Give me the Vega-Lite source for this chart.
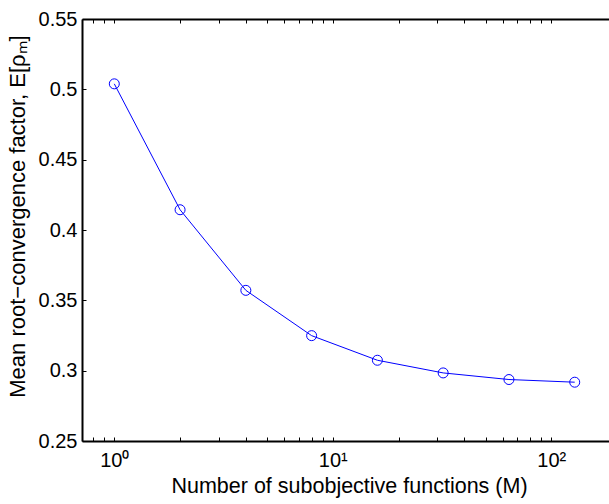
{
  "$schema": "https://vega.github.io/schema/vega-lite/v6.json",
  "width": 530,
  "height": 422,
  "autosize": "none",
  "padding": {"left": 82, "top": 19, "right": 0, "bottom": 63},
  "background": "white",
  "config": {
    "view": {"stroke": null},
    "font": "Liberation Sans",
    "axis": {"grid": false, "domainColor": "black", "tickColor": "black", "labelColor": "black", "titleColor": "black", "labelFont": "Liberation Sans", "titleFont": "Liberation Sans", "titleFontWeight": "normal"}
  },
  "data": {"values": [
    {"M": 1, "rho": 0.5039},
    {"M": 2, "rho": 0.4144},
    {"M": 4, "rho": 0.3571},
    {"M": 8, "rho": 0.3249},
    {"M": 16, "rho": 0.3074},
    {"M": 32, "rho": 0.2984},
    {"M": 64, "rho": 0.2937},
    {"M": 128, "rho": 0.2918}
  ]},
  "resolve": {"axis": {"x": "independent", "y": "independent"}},
  "layer": [
    {
      "mark": {"type": "line", "color": "#0000ff", "strokeWidth": 1},
      "encoding": {
        "x": {"field": "M", "type": "quantitative",
          "scale": {"type": "log", "domain": [0.7115, 189.6], "nice": false, "zero": false},
          "axis": {"orient": "bottom",
            "values": [0.8, 0.9, 1, 2, 3, 4, 5, 6, 7, 8, 9, 10, 20, 30, 40, 50, 60, 70, 80, 90, 100],
            "labelExpr": "datum.value == 1 ? '10⁰' : datum.value == 10 ? '10¹' : datum.value == 100 ? '10²' : ''",
            "labelFontSize": 20, "labelBaseline": "alphabetic", "labelPadding": 29, "labelFlush": false, "labelOverlap": false,
            "tickSize": -4, "tickWidth": 1, "domainWidth": 2,
            "encode": {"ticks": {"update": {"y2": {"signal": "indexof([1,10,100], datum.value) >= 0 ? -4 : -2"}}}},
            "title": "Number of subobjective functions (M)",
            "titleFontSize": 21.5, "titleX": 267, "titleY": 51, "titleAnchor": null, "titleAlign": "center", "titleBaseline": "alphabetic"}
        },
        "y": {"field": "rho", "type": "quantitative",
          "scale": {"domain": [0.25, 0.55], "nice": false, "zero": false},
          "axis": {"orient": "left",
            "values": [0.25, 0.3, 0.35, 0.4, 0.45, 0.5, 0.55],
            "format": ".2~f",
            "labelFontSize": 20, "labelPadding": 9, "labelFlush": false, "labelOverlap": false,
            "tickSize": -4, "tickWidth": 1, "domainWidth": 2,
            "title": "Mean root−convergence factor, E[ρₘ]",
            "titleFontSize": 22, "titleX": -53, "titleY": 197, "titleAlign": "center", "titleBaseline": "bottom", "titleAngle": 270}
        }
      }
    },
    {
      "mark": {"type": "point", "shape": "circle", "filled": false, "color": "#0000ff", "strokeWidth": 1, "size": 100, "opacity": 1},
      "encoding": {
        "x": {"field": "M", "type": "quantitative",
          "scale": {"type": "log", "domain": [0.7115, 189.6], "nice": false, "zero": false},
          "axis": {"orient": "top",
            "values": [0.8, 0.9, 1, 2, 3, 4, 5, 6, 7, 8, 9, 10, 20, 30, 40, 50, 60, 70, 80, 90, 100],
            "labels": false, "tickSize": -4, "tickWidth": 1, "domainWidth": 2,
            "encode": {"ticks": {"update": {"y2": {"signal": "indexof([1,10,100], datum.value) >= 0 ? 4 : 2"}}}},
            "title": null}
        },
        "y": {"field": "rho", "type": "quantitative",
          "scale": {"domain": [0.25, 0.55], "nice": false, "zero": false},
          "axis": null}
      }
    }
  ]
}
